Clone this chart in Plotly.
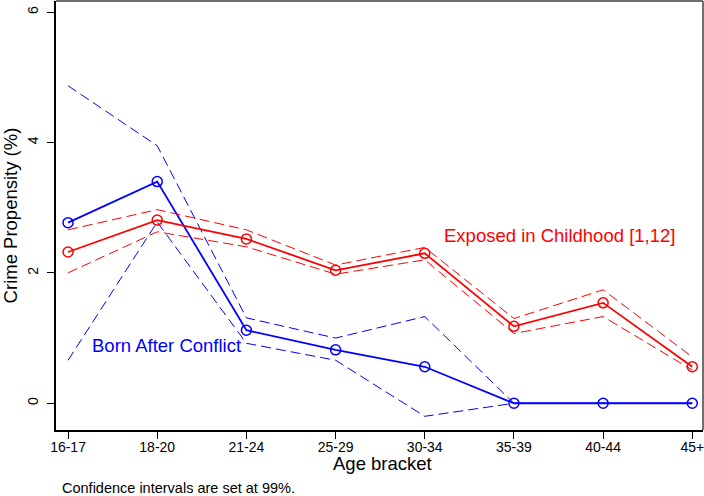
import plotly.graph_objects as go

age_brackets = ["16-17", "18-20", "21-24", "25-29", "30-34", "35-39", "40-44", "45+"]

born_after = [2.77, 3.40, 1.12, 0.82, 0.56, 0.0, 0.0, 0.0]
born_after_hi = [4.87, 3.95, 1.31, 1.00, 1.33, 0.0, 0.0, 0.0]
born_after_lo = [0.66, 2.78, 0.92, 0.66, -0.20, 0.0, 0.0, 0.0]

exposed = [2.32, 2.81, 2.52, 2.04, 2.30, 1.18, 1.54, 0.56]
exposed_hi = [2.66, 2.97, 2.66, 2.12, 2.39, 1.30, 1.74, 0.71]
exposed_lo = [2.00, 2.63, 2.40, 1.98, 2.20, 1.07, 1.33, 0.51]

y_ticks = [0, 2, 4, 6]

BLUE = "#0000FF"
RED = "#FF0000"
FONT = "Liberation Sans, Arial, sans-serif"

x = list(range(len(age_brackets)))

fig = go.Figure()

def ci(vals, color):
    fig.add_trace(go.Scatter(x=x, y=vals, mode="lines",
                             line=dict(color=color, width=1, dash="10px,5px"),
                             hoverinfo="skip", showlegend=False))

def main(vals, color):
    fig.add_trace(go.Scatter(x=x, y=vals, mode="lines+markers",
                             line=dict(color=color, width=1.8),
                             marker=dict(symbol="circle-open", size=10, color=color,
                                         line=dict(width=1.5, color=color)),
                             showlegend=False))

ci(born_after_hi, BLUE)
ci(born_after_lo, BLUE)
main(born_after, BLUE)
ci(exposed_hi, RED)
ci(exposed_lo, RED)
main(exposed, RED)

fig.add_annotation(x=4.19, y=2.58, xref="x", yref="y", text="Exposed in Childhood [1,12]",
                   showarrow=False, xanchor="left", yanchor="middle",
                   font=dict(family=FONT, size=18.5, color=RED))
fig.add_annotation(x=0.245, y=0.89, xref="x", yref="y", text="Born After Conflict",
                   showarrow=False, xanchor="left", yanchor="middle",
                   font=dict(family=FONT, size=18.5, color=BLUE))
fig.add_annotation(x=0.504, y=-0.079, xref="paper", yref="paper", text="Age bracket",
                   showarrow=False, xanchor="center", yanchor="middle",
                   font=dict(family=FONT, size=18.5, color="black"))
fig.add_annotation(x=0.006, y=-0.135, xref="paper", yref="paper",
                   text="Confidence intervals are set at 99%.",
                   showarrow=False, xanchor="left", yanchor="middle",
                   font=dict(family=FONT, size=14.5, color="black"))

# top and right frame lines (gray)
fig.add_shape(type="line", xref="paper", yref="paper", x0=0, x1=1, y0=1, y1=1,
              line=dict(color="#707070", width=2))
fig.add_shape(type="line", xref="paper", yref="paper", x0=1, x1=1, y0=0, y1=1,
              line=dict(color="#707070", width=2))

fig.update_layout(
    width=704, height=496,
    margin=dict(l=56, r=1, t=1, b=66),
    paper_bgcolor="white", plot_bgcolor="white",
    font=dict(family=FONT, color="black"),
    xaxis=dict(range=[-0.135, 7.12], tickmode="array", tickvals=x, ticktext=age_brackets,
               showgrid=False, zeroline=False, showline=True, linecolor="black", linewidth=1.5,
               ticks="outside", ticklen=7, tickcolor="black", tickfont=dict(size=14),
               ticklabeloverflow="allow", ticklabelstandoff=-4, automargin=False),
    yaxis=dict(range=[-0.41, 6.17], tickvals=y_ticks, tickangle=-90, ticklabelstandoff=4,
               showgrid=False, zeroline=False, showline=True, linecolor="black", linewidth=1.5,
               ticks="outside", ticklen=7, tickcolor="black", tickfont=dict(size=14),
               automargin=False,
               title=dict(text="Crime Propensity (%)", font=dict(size=18.5), standoff=4)),
)

fig.write_html("out.html", config={"displayModeBar": False},
               post_script="document.body.style.margin='0';document.body.style.padding='0';")
